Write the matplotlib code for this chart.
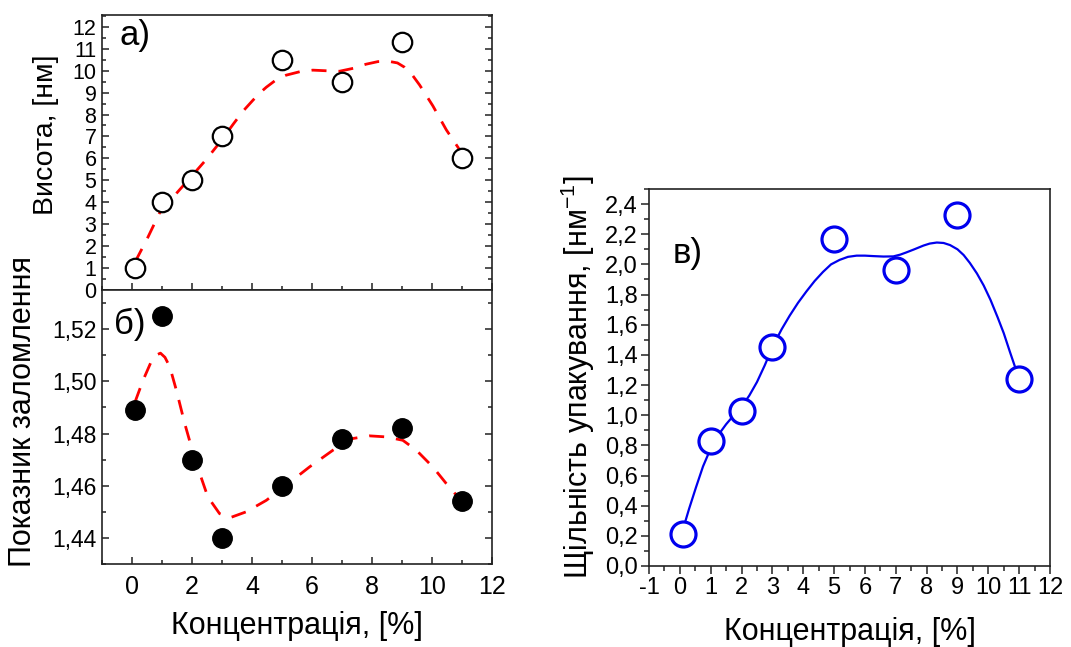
import numpy as np
import matplotlib
matplotlib.use("Agg")
import matplotlib.pyplot as plt
from matplotlib.ticker import MultipleLocator, FuncFormatter

plt.rcParams['font.family'] = ['Liberation Sans', 'DejaVu Sans']
plt.rcParams['axes.unicode_minus'] = False
plt.rcParams['mathtext.default'] = 'regular'

# концентрація, %
conc = [0.1, 1, 2, 3, 5, 7, 9, 11]

# а) висота, нм
height = [1.0, 4.0, 5.0, 7.0, 10.5, 9.5, 11.3, 6.0]
height_fit_x = [0.1, 0.5, 0.92, 1.42, 2.0, 2.48, 3.0, 3.37, 3.7, 4.03, 4.25, 4.48, 4.8, 5.14,
                5.6, 6.03, 6.5, 6.92, 7.4, 7.8, 8.2, 8.53, 8.85, 9.09, 9.35, 9.59, 10.03,
                10.48, 10.87, 11.0]
height_fit_y = [1.25, 2.3, 3.5, 4.3, 5.2, 5.95, 6.85, 7.55, 8.15, 8.65, 8.97, 9.25, 9.58, 9.8,
                9.96, 10.03, 10.0, 9.98, 10.12, 10.3, 10.42, 10.44, 10.36, 10.16, 9.8, 9.35,
                8.4, 7.3, 6.5, 6.2]

# б) показник заломлення
n_fit_x = [0.1, 0.37, 0.64, 0.8, 0.95, 1.1, 1.26, 1.48, 1.76, 1.98, 2.26, 2.53, 2.92, 3.26,
           3.81, 4.48, 5.14, 5.92, 6.7, 7.37, 7.92, 8.48, 9.03, 9.48, 10.03, 10.48, 10.92, 11.0]
n_fit_y = [1.492, 1.5004, 1.5075, 1.5100, 1.5108, 1.5092, 1.5056, 1.4966, 1.4838, 1.4749,
           1.4647, 1.4557, 1.4493, 1.4477, 1.450, 1.4544, 1.4602, 1.4672, 1.4736, 1.4781,
           1.4791, 1.4787, 1.4774, 1.4736, 1.4672, 1.4608, 1.455, 1.4545]
n_refr = [1.489, 1.525, 1.470, 1.440, 1.460, 1.478, 1.482, 1.454]

# в) щільність упакування, нм^-1
density = [0.21, 0.83, 1.03, 1.45, 2.17, 1.96, 2.33, 1.24]
dens_fit_x = [0.11, 0.3, 0.52, 0.75, 1.0, 1.25, 1.5, 1.75, 1.98, 2.25, 2.5, 2.75, 3.02,
              3.3, 3.56, 3.83, 4.1, 4.37, 4.64, 4.9, 5.18, 5.45, 5.73, 6.0, 6.27, 6.6, 6.92,
              7.15, 7.35, 7.6, 7.9, 8.1, 8.33, 8.55, 8.76, 9.0, 9.2, 9.4, 9.63, 9.85, 10.07,
              10.3, 10.5, 10.7, 10.85, 10.99]
dens_fit_y = [0.25, 0.38, 0.52, 0.66, 0.78, 0.87, 0.94, 1.0, 1.05, 1.13, 1.22, 1.33, 1.46,
              1.57, 1.66, 1.745, 1.82, 1.89, 1.95, 2.0, 2.03, 2.05, 2.058, 2.058, 2.055,
              2.052, 2.053, 2.065, 2.08, 2.1, 2.125, 2.138, 2.145, 2.142, 2.128, 2.1,
              2.062, 2.01, 1.94, 1.86, 1.765, 1.65, 1.544, 1.42, 1.33, 1.245]

xlabel = 'Концентрація, [%]'

def comma2(v, pos):
    return ('%.2f' % v).replace('.', ',')

def comma1(v, pos):
    return ('%.1f' % v).replace('.', ',')

fig = plt.figure(figsize=(10.71, 6.47), dpi=100)
ax1 = fig.add_axes([0.0952, 0.5518, 0.3641, 0.4250])
ax2 = fig.add_axes([0.0952, 0.1283, 0.3641, 0.4235], sharex=ax1)
ax3 = fig.add_axes([0.606, 0.1252, 0.3744, 0.5827])

# ліві панелі: риски всередину
for ax in (ax1, ax2):
    for s in ax.spines.values():
        s.set_linewidth(1.2)
        s.set_color('#222222')
    ax.tick_params(which='both', direction='in', top=False, right=True, labelsize=18,
                   width=1.1, color='#222222')
    ax.tick_params(which='major', length=5, pad=6)
    ax.tick_params(which='minor', length=3)
    ax.xaxis.set_major_locator(MultipleLocator(2))
    ax.xaxis.set_minor_locator(MultipleLocator(1))

ax1.plot(height_fit_x, height_fit_y, color='red', lw=2, dashes=(5.4, 4.3))
ax1.plot(conc, height, 'o', ms=14, mfc='white', mec='black', mew=1.6)
ax1.set_xlim(-1, 12)
ax1.set_ylim(-0.02, 12.55)
ax1.yaxis.set_major_locator(MultipleLocator(1))
ax1.yaxis.set_minor_locator(MultipleLocator(0.5))
ax1.tick_params(axis='y', labelsize=15.5, pad=4)
ax1.tick_params(axis='x', labelbottom=False)
ax1.set_ylabel('Висота, [нм]', fontsize=20.5)
ax1.yaxis.set_label_coords(-0.11, 0.564)
ax1.text(0.045, 0.925, 'а)', transform=ax1.transAxes, fontsize=25, va='center', ha='left')

ax2.plot(n_fit_x, n_fit_y, color='red', lw=2, dashes=(5.4, 4.3))
ax2.plot(conc, n_refr, 'o', ms=14, mfc='black', mec='black')
ax2.set_ylim(1.43, 1.535)
ax2.yaxis.set_major_locator(MultipleLocator(0.02))
ax2.yaxis.set_minor_locator(MultipleLocator(0.01))
ax2.yaxis.set_major_formatter(FuncFormatter(comma2))
ax2.tick_params(axis='y', labelsize=16.5, pad=4)
ax2.tick_params(axis='x', pad=8)
ax2.set_xlabel(xlabel, fontsize=22)
ax2.xaxis.set_label_coords(0.5, -0.17)
ax2.set_ylabel('Показник заломлення', fontsize=22)
ax2.yaxis.set_label_coords(-0.165, 0.558)
ax2.text(0.03, 0.875, 'б)', transform=ax2.transAxes, fontsize=25, va='center', ha='left')

# права панель: риски назовні, без верхньої і правої осі
for s in ax3.spines.values():
    s.set_linewidth(1.2)
    s.set_color('#222222')
ax3.plot(dens_fit_x, dens_fit_y, color='#0000ee', lw=1.6)
ax3.plot(conc, density, 'o', ms=18, mfc='white', mec='#0000ee', mew=2.3)
ax3.set_xlim(-1, 12)
ax3.set_ylim(0, 2.5)
ax3.xaxis.set_major_locator(MultipleLocator(1))
ax3.xaxis.set_minor_locator(MultipleLocator(0.5))
ax3.yaxis.set_major_locator(MultipleLocator(0.2))
ax3.yaxis.set_minor_locator(MultipleLocator(0.1))
ax3.yaxis.set_major_formatter(FuncFormatter(comma1))
ax3.tick_params(which='both', direction='out', top=False, right=False, labelsize=17,
                width=1.1, color='#222222')
ax3.tick_params(which='major', length=6, pad=2)
ax3.tick_params(which='minor', length=3.5)
ax3.set_xlabel(xlabel, fontsize=22)
ax3.xaxis.set_label_coords(0.5, -0.135)
ax3.set_ylabel('Щільність упакування, [нм$^{-1}$]', fontsize=22)
ax3.yaxis.set_label_coords(-0.13, 0.501)
ax3.text(0.06, 0.83, 'в)', transform=ax3.transAxes, fontsize=25, va='center', ha='left')

fig.savefig('out.png', dpi=100)
